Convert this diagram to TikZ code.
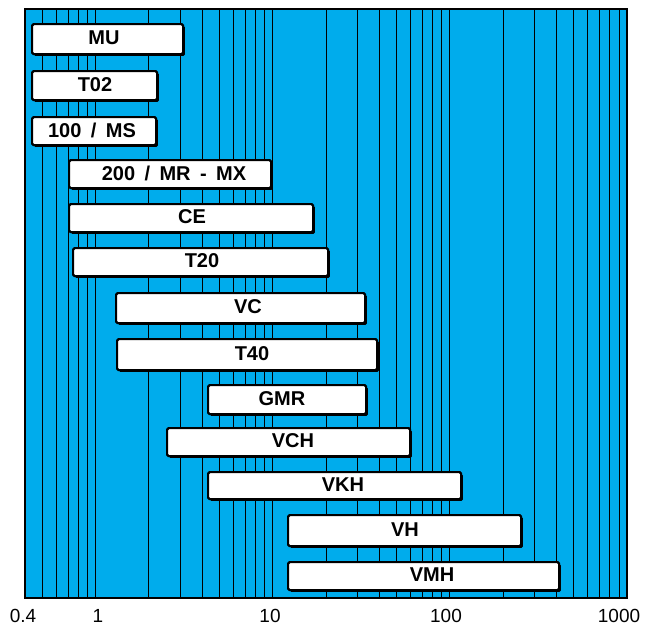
\documentclass[tikz,border=0pt]{standalone}
\usepackage{fontspec}
\setmainfont{Liberation Sans}
\newfontfamily\barfont[WordSpace=1.7]{Liberation Sans}
\usetikzlibrary{shadows}
\definecolor{chartblue}{RGB}{0,172,236}
\newcommand\chartbar[7]{%
  \node[barbox, anchor=north west, minimum width=#4-#2, minimum height=#5-#3] (#1) at (#2,#3) {};
  \node[barlabel] (#1-label) at (#7,{(#3+#5)/2}) {#6};
}
\begin{document}
\begin{tikzpicture}[x=1pt,y=-1pt,
  gridline/.style={black, line width=0.9pt},
  frame/.style={black, line width=2pt},
  barbox/.style={draw=black, fill=white, line width=2.2pt, rounded corners=1.5pt, inner sep=0pt,
    drop shadow={shadow xshift=1.8pt, shadow yshift=-1.8pt, fill=black, opacity=1}},
  barlabel/.style={font=\fontsize{20}{20}\barfont\bfseries, inner sep=0pt},
  axislabel/.style={font=\fontsize{19}{19}\selectfont, inner sep=0pt}]
\useasboundingbox (0,0) rectangle (645,629);
\fill[chartblue] (25,9) rectangle (627,598);
\foreach \v in {0.5,0.6,0.7,0.8,0.9,1,2,3,4,5,6,7,8,9,10,20,30,40,50,60,70,80,90,100,200,300,400,500,600,700,800,900}{
  \pgfmathsetmacro\xx{95.5+177.2*log10(\v)}
  \draw[gridline] (\xx,9) -- (\xx,598);
}
\draw[frame] (25,9) rectangle (627,598);
\chartbar{mu}{31}{23}{182}{53}{MU}{104}
\chartbar{t02}{31}{70}{156}{99}{T02}{95}
\chartbar{ms}{31}{116}{155}{144}{100 / MS}{92}
\chartbar{mr}{68}{159}{270}{187}{200 / MR - MX}{174}
\chartbar{ce}{68}{203}{312}{231}{CE}{192}
\chartbar{t20}{72}{247}{327}{275}{T20}{202}
\chartbar{vc}{115}{292}{364}{322}{VC}{248}
\chartbar{t40}{116}{338}{376}{369}{T40}{252}
\chartbar{gmr}{207}{384}{365}{413}{GMR}{282}
\chartbar{vch}{166}{427}{409}{455}{VCH}{293}
\chartbar{vkh}{207}{471}{460}{498}{VKH}{343}
\chartbar{vh}{287}{514}{520}{545}{VH}{405}
\chartbar{vmh}{287}{561}{558}{589}{VMH}{432}
\node[axislabel] (a04) at (23,616) {0.4};
\node[axislabel] (a1) at (98,616) {1};
\node[axislabel] (a10) at (270,616) {10};
\node[axislabel] (a100) at (446,616) {100};
\node[axislabel] (a1000) at (619,616) {1000};
\end{tikzpicture}
\end{document}
